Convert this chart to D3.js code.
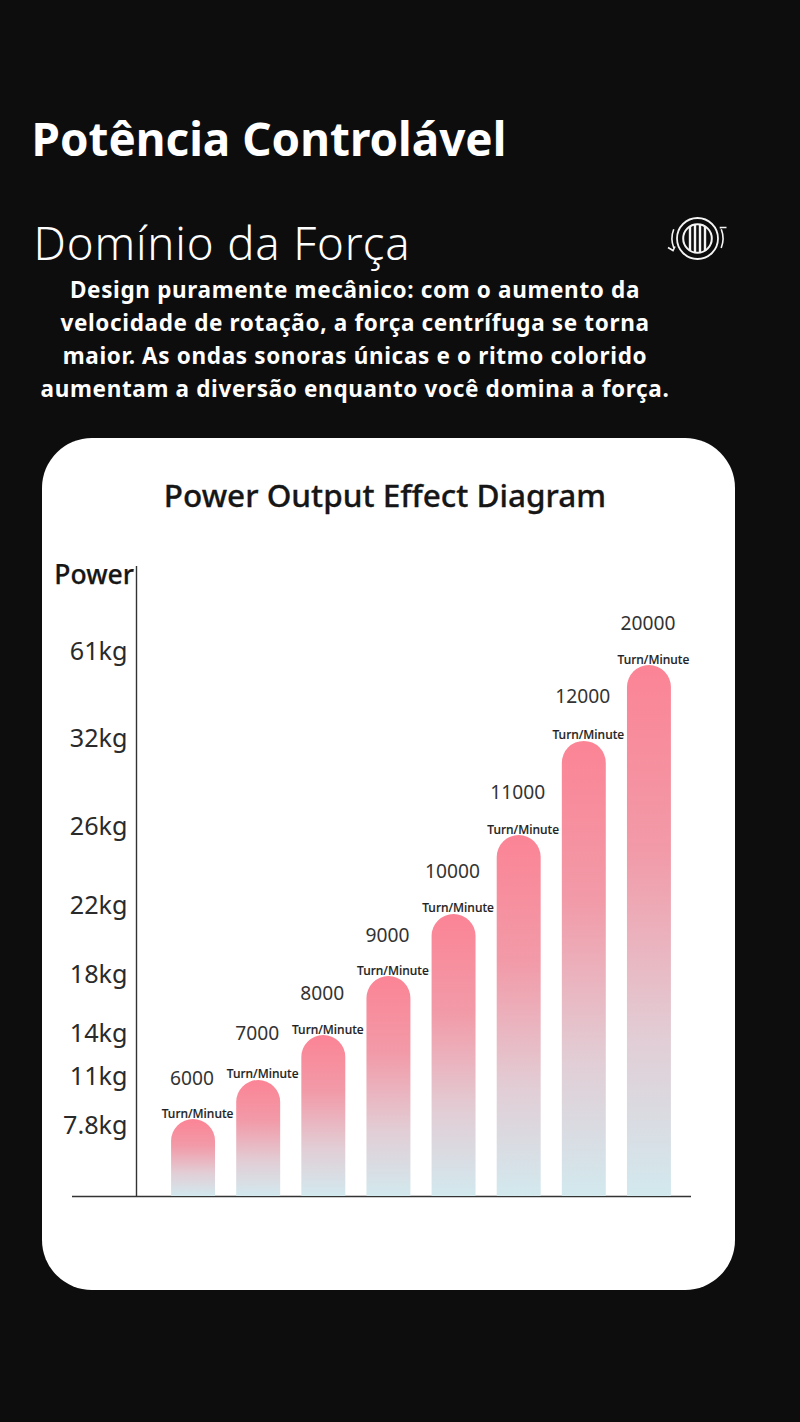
<!DOCTYPE html>
<html><head><meta charset="utf-8">
<script src="https://cdn.jsdelivr.net/npm/d3@7"></script>
<style>html,body{margin:0;padding:0;background:#0d0d0d}svg{display:block}</style>
</head><body><svg id="c" width="800" height="1422"></svg>
<script>
const title="Potência Controlável";
const subtitle="Domínio da Força";
const bodyLines=["Design puramente mecânico: com o aumento da","velocidade de rotação, a força centrífuga se torna","maior. As ondas sonoras únicas e o ritmo colorido","aumentam a diversão enquanto você domina a força."];
const chartTitle="Power Output Effect Diagram";
const yTitle="Power";
const speeds=["6000","7000","8000","9000","10000","11000","12000","20000"];
const powerValues=[8.19,10.74,13.86,17.86,21.48,25.54,31.8,56.3];
const tickValues=[7.8,11,14,18,22,26,32,61];
const tickLabels=["7.8kg","11kg","14kg","18kg","22kg","26kg","32kg","61kg"];
const unit="Turn/Minute";

const svg=d3.select("#c");
const F="'Noto Sans','Open Sans',sans-serif";
const defs=svg.append("defs");
const g=defs.append("linearGradient").attr("id","barGrad").attr("x1",0).attr("y1",0).attr("x2",0).attr("y2",1);
[[0,"#fb8495"],[0.35,"#f29aa8"],[0.7,"#e2cdd5"],[1,"#d2e9ee"]].forEach(s=>g.append("stop").attr("offset",s[0]).attr("stop-color",s[1]));

svg.append("rect").attr("width",800).attr("height",1422).attr("fill","#0d0d0d");
svg.append("text").attr("x",31.5).attr("y",156).attr("font-family",F).attr("font-weight",700).attr("font-size",45.8).attr("fill","#fff").text(title);
svg.append("text").attr("x",33.5).attr("y",260).attr("font-family",F).attr("font-weight",300).attr("font-size",45.5).attr("letter-spacing",0.85).attr("fill","#fff").text(subtitle);
svg.append("g").selectAll("text").data(bodyLines).join("text")
 .attr("x",355).attr("y",(d,i)=>297.5+i*33.3).attr("text-anchor","middle")
 .attr("font-family",F).attr("font-weight",700).attr("font-size",22.5).attr("letter-spacing",0.65).attr("fill","#fff").text(d=>d);

// icon
const ic=svg.append("g").attr("transform","translate(697.5,238.5)").attr("fill","none").attr("stroke","#f4f4f4");
ic.append("circle").attr("r",20.5).attr("stroke-width",1.8);
ic.append("circle").attr("r",14.3).attr("stroke-width",2);
[-7.5,-2.5,2.5,7.5].forEach(x=>{const h=Math.sqrt(14.3*14.3-x*x);ic.append("line").attr("x1",x).attr("x2",x).attr("y1",-h).attr("y2",h).attr("stroke-width",2.4);});
const arc=d3.arc().innerRadius(25.5).outerRadius(25.5);
ic.append("path").attr("d",arc({startAngle:1.2,endAngle:1.95})).attr("stroke-width",1.6);
ic.append("path").attr("d",arc({startAngle:-1.2,endAngle:-1.95})).attr("stroke-width",1.6);
ic.append("path").attr("d",d3.line()([[23,-10],[23,-11],[29,-11]])).attr("stroke-width",1.6);
ic.append("path").attr("d",d3.line()([[-29.5,9],[-24.5,12],[-22.5,8]])).attr("stroke-width",1.6);

// card
svg.append("rect").attr("x",42).attr("y",438).attr("width",693).attr("height",852).attr("rx",50).attr("fill","#fff");
svg.append("text").attr("x",385).attr("y",507).attr("text-anchor","middle").attr("font-family",F).attr("font-weight",500).attr("font-size",31.5).attr("fill","#161616").attr("stroke","#161616").attr("stroke-width",0.3).text(chartTitle);

const y=d3.scaleLinear().domain([0].concat(tickValues)).range([1196,1125,1076,1033,974,905,826,738,651]);
const x=d3.scaleBand().domain(speeds).range([160.5,681.5]).paddingInner(0.325).paddingOuter(0.1625);
const bw=x.bandwidth();

// axes
const base=y(0);
svg.append("line").attr("x1",72).attr("x2",691).attr("y1",base+.5).attr("y2",base+.5).attr("stroke","#333").attr("stroke-width",1.4);
svg.append("line").attr("x1",136.5).attr("x2",136.5).attr("y1",566).attr("y2",base).attr("stroke","#333").attr("stroke-width",1.4);
svg.append("text").attr("x",134).attr("y",584).attr("text-anchor","end").attr("font-family",F).attr("font-weight",500).attr("font-size",26.5).attr("fill","#161616").attr("stroke","#161616").attr("stroke-width",0.25).text(yTitle);
svg.append("g").selectAll("text").data(tickValues).join("text")
 .attr("x",127.5).attr("y",d=>y(d)+8.7).attr("text-anchor","end")
 .attr("font-family",F).attr("font-size",25.2).attr("fill","#2a2a2a").text((d,i)=>tickLabels[i]);

// bars
const barPath=(x0,top,w,bot)=>{const p=d3.path();const r=w/2;p.moveTo(x0,bot);p.lineTo(x0,top+r);p.arc(x0+r,top+r,r,Math.PI,0);p.lineTo(x0+w,bot);p.closePath();return p.toString();};
svg.append("g").selectAll("path").data(powerValues).join("path")
 .attr("d",(d,i)=>barPath(x(speeds[i]),y(d),bw,base)).attr("fill","url(#barGrad)");
const unitNudgeY=[0,-0.5,0,0,0,0,0,0];
svg.append("g").selectAll("text").data(powerValues).join("text")
 .attr("x",(d,i)=>x(speeds[i])+bw/2+4.5).attr("y",(d,i)=>y(d)-1.5+unitNudgeY[i]).attr("text-anchor","middle")
 .attr("font-family",F).attr("font-weight",500).attr("font-size",12).attr("fill","#222").attr("stroke","#222").attr("stroke-width",0.15).text(unit);
const speedGap=[34,40,35,34,36,36,38,35];
svg.append("g").selectAll("text").data(powerValues).join("text")
 .attr("x",(d,i)=>x(speeds[i])+bw/2-1).attr("y",(d,i)=>y(d)-speedGap[i]).attr("text-anchor","middle")
 .attr("font-family",F).attr("font-size",19.2).attr("fill","#333").text((d,i)=>speeds[i]);
</script></body></html>
